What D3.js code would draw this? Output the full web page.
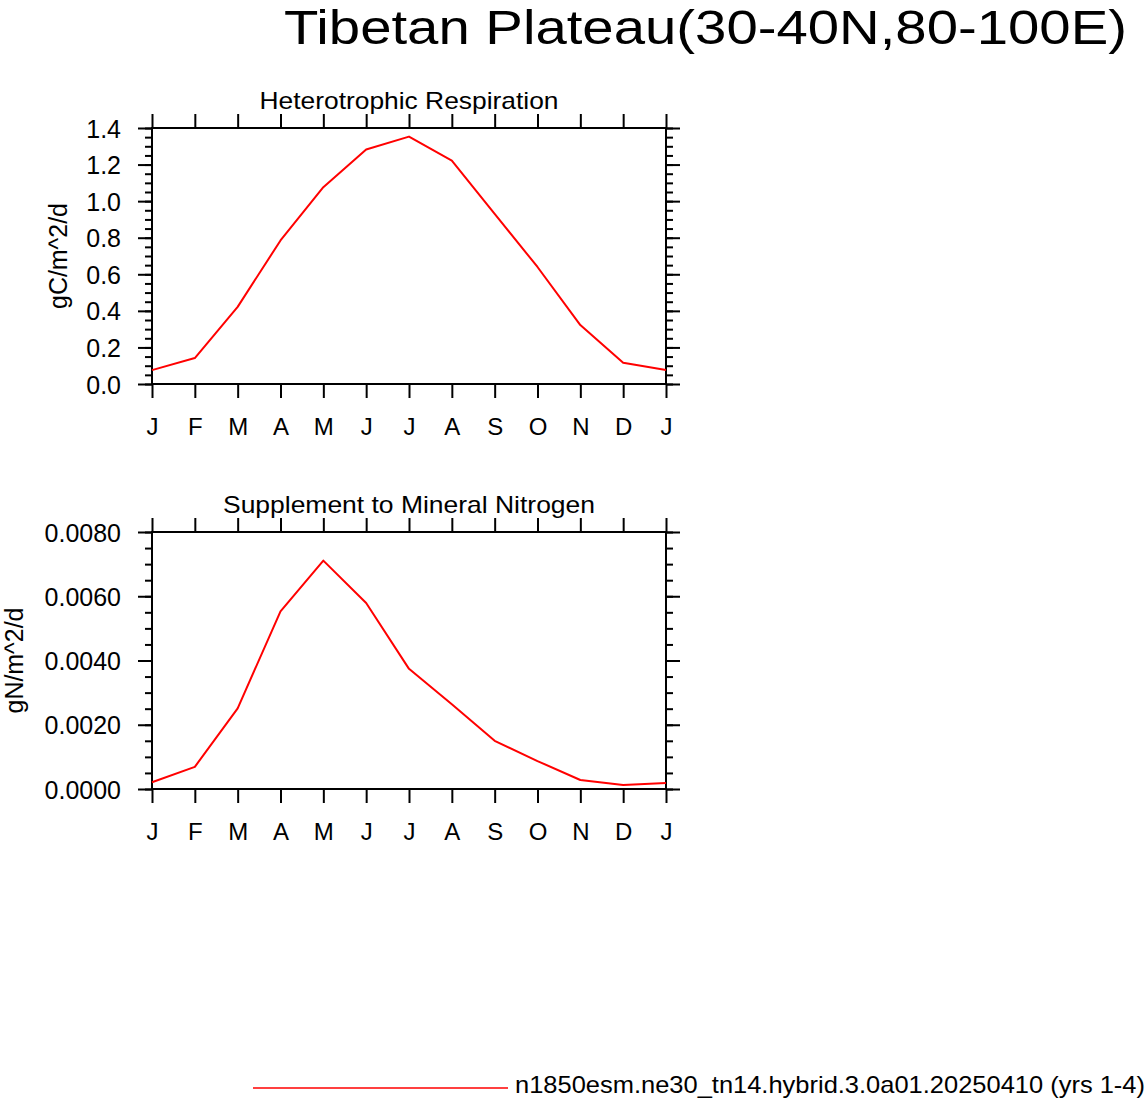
<!DOCTYPE html>
<html>
<head>
<meta charset="utf-8">
<script src="https://cdn.jsdelivr.net/npm/d3@7"></script>
<style>
  body { margin: 0; background: #fff; }
  svg { display: block; font-family: "Liberation Sans", Arial, Helvetica, sans-serif; }
</style>
</head>
<body>
<div id="container"></div>
<script>
const months = ["J","F","M","A","M","J","J","A","S","O","N","D","J"]
// monthly means, Jan repeated at the end
const hrValues = [0.076, 0.142, 0.422, 0.785, 1.076, 1.282, 1.353, 1.222, 0.931, 0.640, 0.322, 0.116, 0.076]
const supplNValues = [0.00021, 0.00069, 0.00251, 0.00553, 0.00711, 0.00579, 0.00374, 0.00264, 0.00150, 0.00087, 0.00028, 0.000125, 0.00019]
const hrTicks = [0, 0.2, 0.4, 0.6, 0.8, 1.0, 1.2, 1.4]
const supplNTicks = [0, 0.002, 0.004, 0.006, 0.008]

const mainTitle = "Tibetan Plateau(30-40N,80-100E)"
const legendLabel = "n1850esm.ne30_tn14.hybrid.3.0a01.20250410 (yrs 1-4)"

const W = 1146, H = 1101
const svg = d3.select("#container").append("svg")
    .attr("width", W)
    .attr("height", H)

svg.append("text")
    .attr("x", 1127)
    .attr("y", 44)
    .attr("text-anchor", "end")
    .attr("font-size", 48)
    .attr("textLength", 843)
    .attr("lengthAdjust", "spacingAndGlyphs")
    .text(mainTitle)

const panels = [
    {title: "Heterotrophic Respiration", titleLen: 299, units: "gC/m^2/d", unitsX: 67, values: hrValues,
     ticks: hrTicks, max: 1.4, minorStep: 0.05, fmt: d3.format(".1f"), top: 128, bottom: 384},
    {title: "Supplement to Mineral Nitrogen", titleLen: 372, units: "gN/m^2/d", unitsX: 23, values: supplNValues,
     ticks: supplNTicks, max: 0.008, minorStep: 0.0005, fmt: d3.format(".4f"), top: 532, bottom: 789}
]

const left = 152, right = 666

panels.forEach(p => drawPanel(p))

function drawPanel(p){
    const x = d3.scaleLinear().domain([0, 12]).range([left, right])
    const y = d3.scaleLinear().domain([0, p.max]).range([p.bottom, p.top])
    const minor = d3.range(0, p.max + p.minorStep / 2, p.minorStep)
    const g = svg.append("g")

    // minor ticks
    g.append("g").attr("transform", `translate(${left},0)`)
        .call(d3.axisLeft(y).tickValues(minor).tickSize(7).tickFormat(""))
    g.append("g").attr("transform", `translate(${right},0)`)
        .call(d3.axisRight(y).tickValues(minor).tickSize(7).tickFormat(""))

    // major ticks
    const yAxis = g.append("g").attr("transform", `translate(${left},0)`)
        .call(d3.axisLeft(y).tickValues(p.ticks).tickSize(14).tickPadding(17).tickFormat(p.fmt))
    yAxis.selectAll("text").attr("font-size", 25).attr("dy", "0.36em")
    g.append("g").attr("transform", `translate(${right},0)`)
        .call(d3.axisRight(y).tickValues(p.ticks).tickSize(14).tickFormat(""))
    g.append("g").attr("transform", `translate(0,${p.top})`)
        .call(d3.axisTop(x).ticks(12).tickSize(14).tickFormat(""))
    const xAxis = g.append("g").attr("transform", `translate(0,${p.bottom})`)
        .call(d3.axisBottom(x).ticks(12).tickSize(14).tickFormat(i => months[i]))
    xAxis.selectAll("text").attr("y", 51).attr("dy", null).attr("font-size", 24)

    g.selectAll(".domain").remove()
    g.selectAll(".tick line").attr("stroke", "#000").attr("stroke-width", 2)
    g.selectAll(".tick text").attr("fill", "#000")
        .attr("font-family", "Liberation Sans, Arial, sans-serif")

    // frame
    g.append("rect")
        .attr("x", left).attr("y", p.top)
        .attr("width", right - left).attr("height", p.bottom - p.top)
        .attr("fill", "none").attr("stroke", "#000").attr("stroke-width", 2)

    const line = d3.line().x((d, i) => x(i)).y(d => y(d))
    g.append("path")
        .datum(p.values)
        .attr("d", line)
        .attr("fill", "none")
        .attr("stroke", "red")
        .attr("stroke-width", 2)
        .attr("stroke-linejoin", "round")

    g.append("text")
        .attr("x", (left + right) / 2)
        .attr("y", p.top - 19)
        .attr("text-anchor", "middle")
        .attr("font-size", 24)
        .attr("textLength", p.titleLen)
        .attr("lengthAdjust", "spacingAndGlyphs")
        .text(p.title)

    g.append("text")
        .attr("transform", `translate(${p.unitsX},${(p.top + p.bottom) / 2}) rotate(-90)`)
        .attr("text-anchor", "middle")
        .attr("font-size", 25)
        .attr("textLength", 106)
        .attr("lengthAdjust", "spacingAndGlyphs")
        .text(p.units)
}

// legend
svg.append("line")
    .attr("x1", 253).attr("x2", 508)
    .attr("y1", 1088).attr("y2", 1088)
    .attr("stroke", "red").attr("stroke-width", 1.5)
svg.append("text")
    .attr("x", 515)
    .attr("y", 1093)
    .attr("font-size", 24)
    .attr("textLength", 630)
    .attr("lengthAdjust", "spacingAndGlyphs")
    .text(legendLabel)
</script>
</body>
</html>
